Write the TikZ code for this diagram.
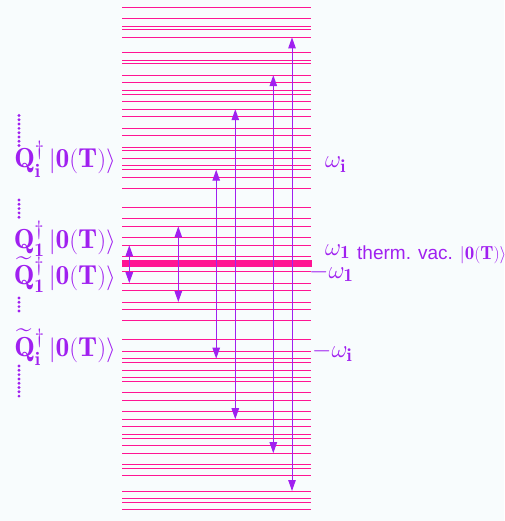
\documentclass[tikz,border=0pt]{standalone}
\usepackage{amsmath,amssymb}
\usepackage{fontspec}
\newfontfamily\helv{Liberation Sans}
\usetikzlibrary{arrows.meta}
\definecolor{lvl}{RGB}{255,20,147}
\definecolor{pur}{RGB}{160,32,240}
\definecolor{bg}{RGB}{248,252,253}
\tikzset{
  level/.style={draw=lvl, line width=1pt},
  vacline/.style={draw=lvl, line width=6.5pt},
  trans/.style={draw=pur, line width=1pt, {Triangle[length=11pt,width=7.5pt]}-{Triangle[length=11pt,width=7.5pt]}},
  qlab/.style={text=pur, anchor=base east, inner sep=0pt, font=\fontsize{27.5}{32}\selectfont},
  wlab/.style={text=pur, anchor=base west, inner sep=0pt, font=\fontsize{26.5}{30}\selectfont},
  vlab/.style={text=pur, anchor=base west, inner sep=0pt, font=\fontsize{19}{22}\selectfont\helv},
  dot/.style={fill=pur, circle, inner sep=0pt, minimum size=3.2pt}
}
\begin{document}
\begin{tikzpicture}[x=1pt,y=-1pt]
\useasboundingbox (0,0) rectangle (504,521);
\fill[bg] (0,0) rectangle (504,521);
\foreach \k in {2,5,7,10,12,15,20,23,25,26,28,30,31,34,36,39,41,43,45,46,48,50,53,54,56,60,62,63,65,68}{
  \draw[level] (122,{264.2-3.78*\k}) -- (311,{264.2-3.78*\k});
}
\foreach \k in {2,5,7,10,12,15,20,23,25,26,28,30,31,34,36,39,41,43,45,46,48,50,53,54,56,60,62,63,65}{
  \draw[level] (122,{264.2+3.78*\k}) -- (311,{264.2+3.78*\k});
}
\draw[vacline] (122,263.4) -- (312,263.4);
% transition arrows
\coordinate (ta) at (129.3,{264.2-3.78*5});  \coordinate (ba) at (129.3,{264.2+3.78*5});
\coordinate (tb) at (178.3,{264.2-3.78*10}); \coordinate (bb) at (178.3,{264.2+3.78*10});
\coordinate (tc) at (216.2,{264.2-3.78*25}); \coordinate (bc) at (216.2,{264.2+3.78*25});
\coordinate (td) at (235.3,{264.2-3.78*41}); \coordinate (bd) at (235.3,{264.2+3.78*41});
\coordinate (te) at (273.3,{264.2-3.78*50}); \coordinate (be) at (273.3,{264.2+3.78*50});
\coordinate (tf) at (292,{264.2-3.78*60});   \coordinate (bf) at (292,{264.2+3.78*60});
\draw[trans] (ba) -- (ta);
\draw[trans] (bb) -- (tb);
\draw[trans] (bc) -- (tc);
\draw[trans] (bd) -- (td);
\draw[trans] (be) -- (te);
\draw[trans] (bf) -- (tf);
% left labels
\node[qlab] (qi) at (116,168) {$\mathbf{Q}^{\dagger}_{\mathbf{i}}\,|\mathbf{0}(\mathbf{T})\rangle$};
\node[qlab] (q1) at (116,248) {$\mathbf{Q}^{\dagger}_{\mathbf{1}}\,|\mathbf{0}(\mathbf{T})\rangle$};
\node[qlab] (qt1) at (116,284) {$\widetilde{\mathbf{Q}}{}^{\dagger}_{\mathbf{1}}\,|\mathbf{0}(\mathbf{T})\rangle$};
\node[qlab] (qti) at (116,356) {$\widetilde{\mathbf{Q}}{}^{\dagger}_{\mathbf{i}}\,|\mathbf{0}(\mathbf{T})\rangle$};
% dots
\foreach \y in {115.5,119.8,...,147}{\node[dot] at (19,\y) {};}
\foreach \y in {200,204.3,...,219}{\node[dot] at (19,\y) {};}
\foreach \y in {298,302.3,...,314}{\node[dot] at (19,\y) {};}
\foreach \y in {366,370.3,...,398}{\node[dot] at (19,\y) {};}
% right labels
\node[wlab] (wi) at (325,168) {$\omega_{\mathbf{i}}$};
\node[wlab] (w1) at (325,255) {$\omega_{\mathbf{1}}$};
\node[vlab] (tv) at (357,259) {therm. vac. $|\mathbf{0}(\mathbf{T})\rangle$};
\node[wlab] (mw1) at (309,278) {$-\omega_{\mathbf{1}}$};
\node[wlab] (mwi) at (312,357) {$-\omega_{\mathbf{i}}$};
\end{tikzpicture}
\end{document}
